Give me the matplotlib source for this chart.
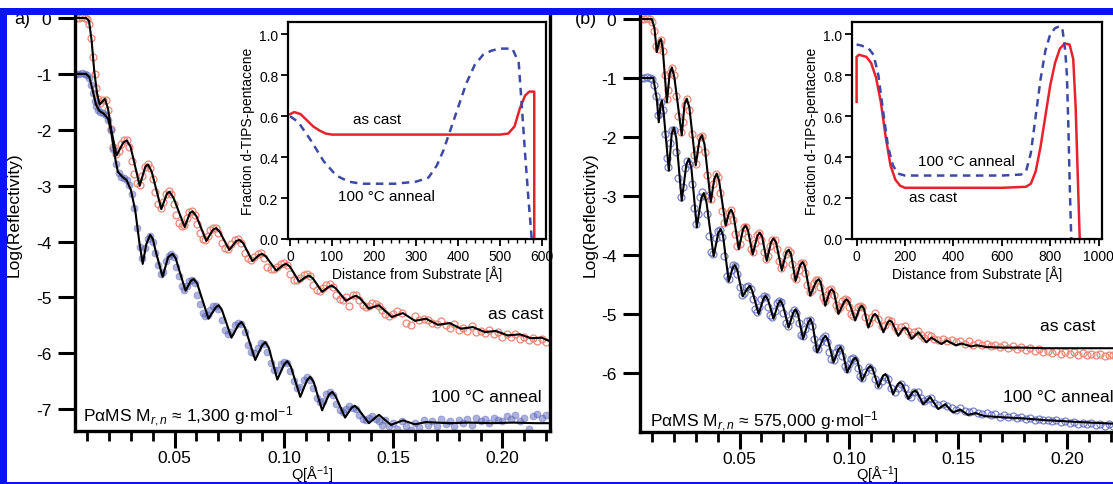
import matplotlib
matplotlib.use("Agg")
import matplotlib.pyplot as plt
from matplotlib.ticker import MultipleLocator, FormatStrFormatter
from matplotlib.patches import Rectangle

plt.rcParams['font.family'] = ['Liberation Sans', 'DejaVu Sans']
plt.rcParams['mathtext.fontset'] = 'custom'
plt.rcParams['mathtext.rm'] = 'Liberation Sans'
plt.rcParams['mathtext.it'] = 'Liberation Sans:italic'
plt.rcParams['mathtext.default'] = 'regular'
plt.rcParams['axes.unicode_minus'] = False

# ---------------- panel (a): fit lines ----------------
qa_cast_fit = [0.0045, 0.0095, 0.0108, 0.0120, 0.0132, 0.0145, 0.0157, 0.0168, 0.0181, 0.0195,
               0.0210, 0.0234, 0.0265, 0.0280, 0.0298, 0.0340, 0.0366, 0.0378, 0.0395, 0.0439,
               0.0465, 0.0477, 0.0495, 0.0546, 0.0570, 0.0582, 0.0600, 0.0645, 0.0675, 0.0690,
               0.0707, 0.0750, 0.0782, 0.0797, 0.0814, 0.0856, 0.0887, 0.0901, 0.0918, 0.0965,
               0.0997, 0.1011, 0.1028, 0.1070, 0.1102, 0.1116, 0.1133, 0.1175, 0.1206, 0.1220,
               0.1238, 0.1284, 0.1316, 0.1330, 0.1347, 0.1389, 0.1435, 0.1494, 0.1545, 0.1600,
               0.1650, 0.1705, 0.1760, 0.1810, 0.1865, 0.1920, 0.1970, 0.2025, 0.2080, 0.2130,
               0.2180, 0.2220]
ra_cast_fit = [0.00, 0.00, -0.05, -0.40, -0.95, -1.35, -1.55, -1.50, -1.45, -1.62,
               -2.00, -2.46, -2.23, -2.19, -2.30, -3.00, -2.66, -2.62, -2.75, -3.42,
               -3.14, -3.11, -3.22, -3.74, -3.49, -3.46, -3.55, -3.99, -3.79, -3.76,
               -3.83, -4.15, -3.99, -3.97, -4.03, -4.35, -4.24, -4.22, -4.27, -4.52,
               -4.42, -4.40, -4.45, -4.72, -4.63, -4.61, -4.66, -4.90, -4.81, -4.79,
               -4.84, -5.06, -4.99, -4.97, -5.01, -5.20, -5.14, -5.35, -5.28, -5.42,
               -5.38, -5.49, -5.46, -5.56, -5.53, -5.62, -5.60, -5.68, -5.66, -5.73,
               -5.72, -5.79]

qa_ann_fit = [0.0045, 0.0095, 0.0110, 0.0125, 0.0140, 0.0155, 0.0175, 0.0195, 0.0210, 0.0225,
              0.0240, 0.0260, 0.0280, 0.0300, 0.0320, 0.0338, 0.0354, 0.0370, 0.0388, 0.0400,
              0.0415, 0.0445, 0.0470, 0.0491, 0.0505, 0.0520, 0.0550, 0.0575, 0.0587, 0.0603,
              0.0655, 0.0688, 0.0701, 0.0716, 0.0760, 0.0792, 0.0806, 0.0822, 0.0869, 0.0900,
              0.0915, 0.0931, 0.0970, 0.1001, 0.1016, 0.1032, 0.1075, 0.1106, 0.1121, 0.1137,
              0.1175, 0.1206, 0.1221, 0.1237, 0.1280, 0.1311, 0.1325, 0.1341, 0.1389, 0.1435,
              0.1490, 0.1545, 0.1600, 0.1650, 0.1750, 0.1850, 0.1950, 0.2050, 0.2150, 0.2220]
ra_ann_fit = [-1.00, -1.00, -1.06, -1.30, -1.55, -1.66, -1.71, -1.80, -2.05, -2.45,
              -2.75, -2.84, -2.90, -3.08, -3.45, -4.00, -4.40, -4.05, -3.88, -3.95,
              -4.20, -4.63, -4.28, -4.22, -4.30, -4.50, -4.88, -4.70, -4.67, -4.75,
              -5.38, -5.18, -5.14, -5.22, -5.72, -5.49, -5.44, -5.54, -6.12, -5.86,
              -5.80, -5.90, -6.47, -6.20, -6.14, -6.24, -6.78, -6.48, -6.42, -6.52,
              -7.02, -6.74, -6.69, -6.77, -7.15, -6.97, -6.94, -7.00, -7.25, -7.10,
              -7.28, -7.20, -7.27, -7.23, -7.25, -7.24, -7.25, -7.24, -7.25, -7.25]

# ---------------- panel (a): measured points ----------------
qa_pts = [0.0050, 0.0062, 0.0075, 0.0088, 0.0100, 0.0110, 0.0118, 0.0126, 0.0134, 0.0142,
          0.0150, 0.0160, 0.0172, 0.0184, 0.0196, 0.0208, 0.0220, 0.0232, 0.0244, 0.0256,
          0.0268, 0.0280, 0.0292, 0.0304, 0.0316, 0.0328, 0.0340, 0.0352, 0.0364, 0.0376,
          0.0388, 0.0400, 0.0412, 0.0424, 0.0436, 0.0448, 0.0460, 0.0472, 0.0484, 0.0496,
          0.0508, 0.0520, 0.0532, 0.0544, 0.0556, 0.0568, 0.0580, 0.0592, 0.0604, 0.0616,
          0.0628, 0.0640, 0.0652, 0.0664, 0.0676, 0.0688, 0.0700, 0.0715, 0.0730, 0.0745,
          0.0760, 0.0775, 0.0790, 0.0805, 0.0820, 0.0835, 0.0850, 0.0865, 0.0880, 0.0895,
          0.0910, 0.0925, 0.0940, 0.0955, 0.0970, 0.0985, 0.1000, 0.1015, 0.1030, 0.1045,
          0.1060, 0.1075, 0.1090, 0.1105, 0.1120, 0.1135, 0.1150, 0.1165, 0.1180, 0.1195,
          0.1210, 0.1225, 0.1240, 0.1255, 0.1270, 0.1285, 0.1300, 0.1315, 0.1330, 0.1345,
          0.1360, 0.1375, 0.1390, 0.1405, 0.1420, 0.1435, 0.1450, 0.1465, 0.1480, 0.1500,
          0.1520, 0.1540, 0.1560, 0.1580, 0.1600, 0.1620, 0.1640, 0.1660, 0.1680, 0.1700,
          0.1720, 0.1740, 0.1760, 0.1780, 0.1800, 0.1820, 0.1840, 0.1860, 0.1880, 0.1900,
          0.1920, 0.1940, 0.1960, 0.1980, 0.2000, 0.2020, 0.2040, 0.2060, 0.2080, 0.2100,
          0.2120, 0.2140, 0.2160, 0.2180, 0.2200]
ra_cast_pts = [0.00, 0.00, 0.01, 0.00, -0.02, -0.10, -0.35, -0.70, -1.00, -1.25,
               -1.45, -1.52, -1.46, -1.47, -1.65, -1.98, -2.30, -2.44, -2.38, -2.25,
               -2.19, -2.18, -2.30, -2.55, -2.80, -2.96, -2.98, -2.82, -2.66, -2.62,
               -2.68, -2.88, -3.12, -3.32, -3.40, -3.30, -3.15, -3.10, -3.15, -3.32,
               -3.52, -3.66, -3.73, -3.70, -3.58, -3.48, -3.46, -3.52, -3.68, -3.85,
               -3.96, -3.97, -3.90, -3.80, -3.75, -3.76, -3.85, -4.02, -4.12, -4.13,
               -4.05, -3.98, -3.96, -4.03, -4.20, -4.30, -4.33, -4.28, -4.22, -4.21,
               -4.30, -4.45, -4.50, -4.50, -4.45, -4.40, -4.38, -4.42, -4.58, -4.68,
               -4.69, -4.65, -4.60, -4.58, -4.62, -4.78, -4.86, -4.88, -4.84, -4.78,
               -4.76, -4.82, -4.96, -5.02, -5.04, -5.00, -5.15, -4.96, -4.95, -5.05,
               -5.14, -5.18, -5.16, -5.10, -5.12, -5.15, -5.22, -5.30, -5.33, -5.30,
               -5.25, -5.28, -5.45, -5.50, -5.33, -5.40, -5.38, -5.40, -5.45, -5.48,
               -5.42, -5.50, -5.55, -5.48, -5.58, -5.55, -5.60, -5.52, -5.62, -5.60,
               -5.64, -5.58, -5.66, -5.62, -5.70, -5.65, -5.70, -5.66, -5.74, -5.70,
               -5.76, -5.72, -5.78, -5.75, -5.80]
ra_ann_pts = [-1.00, -1.00, -0.99, -1.00, -1.02, -1.08, -1.20, -1.35, -1.48, -1.58,
              -1.64, -1.68, -1.70, -1.74, -1.82, -2.00, -2.35, -2.62, -2.78, -2.84,
              -2.86, -2.90, -2.98, -3.15, -3.40, -3.75, -4.10, -4.30, -4.12, -3.95,
              -3.90, -4.00, -4.20, -4.42, -4.58, -4.55, -4.35, -4.25, -4.22, -4.28,
              -4.45, -4.62, -4.80, -4.86, -4.80, -4.70, -4.68, -4.75, -4.95, -5.12,
              -5.28, -5.34, -5.32, -5.22, -5.15, -5.15, -5.20, -5.40, -5.58, -5.66,
              -5.62, -5.50, -5.45, -5.48, -5.62, -5.85, -5.98, -6.00, -5.90, -5.82,
              -5.84, -5.98, -6.18, -6.30, -6.30, -6.20, -6.15, -6.18, -6.32, -6.50,
              -6.62, -6.60, -6.48, -6.42, -6.48, -6.62, -6.80, -6.88, -6.85, -6.72,
              -6.70, -6.75, -6.90, -7.02, -7.05, -7.00, -6.95, -6.98, -7.00, -7.10,
              -7.18, -7.20, -7.15, -7.12, -7.18, -7.22, -7.28, -7.20, -7.30, -7.25,
              -7.35, -7.22, -7.30, -7.38, -7.25, -7.32, -7.20, -7.28, -7.22, -7.30,
              -7.18, -7.26, -7.22, -7.30, -7.20, -7.25, -7.18, -7.28, -7.15, -7.22,
              -7.18, -7.25, -7.15, -7.20, -7.22, -7.12, -7.18, -7.10, -7.22, -7.15,
              -7.35, -7.12, -7.08, -7.15, -7.10]

# ---------------- panel (b): fit lines ----------------
qb_cast_fit = [0.0045, 0.0098, 0.0110, 0.0121, 0.0132, 0.0140, 0.0148, 0.0167, 0.0180, 0.0190,
               0.0201, 0.0235, 0.0248, 0.0258, 0.0270, 0.0299, 0.0316, 0.0327, 0.0339, 0.0368,
               0.0384, 0.0395, 0.0406, 0.0436, 0.0451, 0.0461, 0.0472, 0.0496, 0.0516, 0.0527,
               0.0538, 0.0560, 0.0581, 0.0592, 0.0603, 0.0624, 0.0644, 0.0655, 0.0667, 0.0693,
               0.0713, 0.0724, 0.0735, 0.0756, 0.0777, 0.0788, 0.0799, 0.0823, 0.0850, 0.0861,
               0.0871, 0.0892, 0.0912, 0.0922, 0.0932, 0.0952, 0.0979, 0.0990, 0.1001, 0.1029,
               0.1049, 0.1059, 0.1069, 0.1089, 0.1110, 0.1120, 0.1130, 0.1158, 0.1178, 0.1188,
               0.1198, 0.1226, 0.1247, 0.1257, 0.1267, 0.1287, 0.1318, 0.1355, 0.1378, 0.1424,
               0.1447, 0.1490, 0.1515, 0.1560, 0.1585, 0.1630, 0.1700, 0.1800, 0.1900, 0.2000,
               0.2100, 0.2220]
rb_cast_fit = [0.00, 0.00, -0.15, -0.56, -0.38, -0.34, -0.50, -1.41, -0.92, -0.82,
               -0.98, -1.97, -1.44, -1.35, -1.50, -2.48, -2.05, -1.97, -2.12, -3.10,
               -2.71, -2.62, -2.74, -3.50, -3.29, -3.23, -3.32, -3.90, -3.56, -3.50,
               -3.58, -3.99, -3.68, -3.62, -3.69, -4.10, -3.78, -3.72, -3.79, -4.26,
               -3.96, -3.91, -3.98, -4.44, -4.17, -4.12, -4.19, -4.69, -4.45, -4.41,
               -4.46, -4.86, -4.62, -4.58, -4.63, -5.00, -4.79, -4.75, -4.80, -5.11,
               -4.90, -4.86, -4.91, -5.23, -5.03, -5.00, -5.04, -5.31, -5.14, -5.11,
               -5.14, -5.37, -5.25, -5.23, -5.26, -5.42, -5.31, -5.48, -5.40, -5.51,
               -5.45, -5.53, -5.50, -5.55, -5.53, -5.56, -5.57, -5.57, -5.58, -5.58,
               -5.58, -5.58]

qb_ann_fit = [0.0045, 0.0105, 0.0121, 0.0130, 0.0138, 0.0144, 0.0152, 0.0176, 0.0189, 0.0199,
              0.0210, 0.0235, 0.0256, 0.0267, 0.0279, 0.0304, 0.0325, 0.0336, 0.0348, 0.0381,
              0.0402, 0.0413, 0.0424, 0.0450, 0.0468, 0.0478, 0.0489, 0.0514, 0.0535, 0.0546,
              0.0557, 0.0587, 0.0608, 0.0619, 0.0630, 0.0655, 0.0676, 0.0687, 0.0698, 0.0724,
              0.0745, 0.0756, 0.0767, 0.0790, 0.0813, 0.0824, 0.0834, 0.0855, 0.0882, 0.0893,
              0.0904, 0.0930, 0.0951, 0.0961, 0.0971, 0.0992, 0.1019, 0.1030, 0.1040, 0.1060,
              0.1087, 0.1098, 0.1109, 0.1135, 0.1156, 0.1167, 0.1177, 0.1203, 0.1224, 0.1235,
              0.1246, 0.1272, 0.1293, 0.1304, 0.1315, 0.1340, 0.1372, 0.1409, 0.1441, 0.1477,
              0.1510, 0.1545, 0.1580, 0.1620, 0.1700, 0.1800, 0.1900, 0.2000, 0.2100, 0.2220]
rb_ann_fit = [-1.00, -1.00, -1.36, -1.75, -1.45, -1.38, -1.58, -2.57, -1.95, -1.84,
              -2.02, -3.08, -2.47, -2.37, -2.52, -3.53, -3.03, -2.95, -3.10, -4.02,
              -3.63, -3.56, -3.67, -4.45, -4.22, -4.17, -4.25, -4.70, -4.57, -4.52,
              -4.60, -5.00, -4.75, -4.69, -4.76, -5.08, -4.83, -4.77, -4.85, -5.23,
              -4.98, -4.92, -5.00, -5.42, -5.15, -5.08, -5.18, -5.65, -5.42, -5.37,
              -5.44, -5.82, -5.61, -5.56, -5.63, -5.99, -5.78, -5.74, -5.80, -6.13,
              -5.92, -5.88, -5.93, -6.24, -6.05, -6.02, -6.07, -6.36, -6.19, -6.16,
              -6.20, -6.44, -6.32, -6.30, -6.34, -6.53, -6.41, -6.61, -6.53, -6.67,
              -6.62, -6.71, -6.68, -6.73, -6.75, -6.77, -6.80, -6.82, -6.84, -6.86]

# ---------------- panel (b): measured points ----------------
qb_pts = [0.0050, 0.0062, 0.0075, 0.0088, 0.0100, 0.0110, 0.0118, 0.0126, 0.0134, 0.0142,
          0.0150, 0.0158, 0.0166, 0.0174, 0.0182, 0.0190, 0.0200, 0.0210, 0.0220, 0.0230,
          0.0240, 0.0250, 0.0260, 0.0270, 0.0280, 0.0290, 0.0300, 0.0310, 0.0320, 0.0330,
          0.0340, 0.0350, 0.0360, 0.0370, 0.0380, 0.0390, 0.0400, 0.0410, 0.0420, 0.0430,
          0.0440, 0.0450, 0.0460, 0.0470, 0.0480, 0.0490, 0.0500, 0.0510, 0.0520, 0.0530,
          0.0540, 0.0550, 0.0560, 0.0570, 0.0580, 0.0590, 0.0600, 0.0610, 0.0620, 0.0630,
          0.0640, 0.0650, 0.0660, 0.0670, 0.0680, 0.0690, 0.0700, 0.0710, 0.0720, 0.0730,
          0.0740, 0.0750, 0.0760, 0.0770, 0.0780, 0.0790, 0.0800, 0.0810, 0.0820, 0.0830,
          0.0840, 0.0850, 0.0860, 0.0870, 0.0880, 0.0890, 0.0900, 0.0910, 0.0920, 0.0930,
          0.0940, 0.0950, 0.0960, 0.0970, 0.0980, 0.0990, 0.1000, 0.1010, 0.1020, 0.1030,
          0.1040, 0.1050, 0.1060, 0.1075, 0.1090, 0.1105, 0.1120, 0.1135, 0.1150, 0.1165,
          0.1180, 0.1195, 0.1210, 0.1225, 0.1240, 0.1255, 0.1270, 0.1285, 0.1300, 0.1315,
          0.1330, 0.1345, 0.1360, 0.1375, 0.1390, 0.1410, 0.1430, 0.1450, 0.1470, 0.1490,
          0.1510, 0.1530, 0.1550, 0.1570, 0.1590, 0.1610, 0.1630, 0.1650, 0.1670, 0.1690,
          0.1710, 0.1730, 0.1750, 0.1770, 0.1790, 0.1810, 0.1830, 0.1850, 0.1870, 0.1890,
          0.1910, 0.1930, 0.1950, 0.1970, 0.1990, 0.2010, 0.2030, 0.2050, 0.2070, 0.2090,
          0.2110, 0.2130, 0.2150, 0.2170, 0.2190, 0.2210]
rb_cast_pts = [0.00, 0.00, 0.02, 0.00, -0.05, -0.20, -0.45, -0.50, -0.40, -0.35,
               -0.55, -0.95, -1.35, -1.20, -0.92, -0.83, -0.95, -1.30, -1.65, -1.92,
               -1.75, -1.45, -1.35, -1.55, -1.95, -2.30, -2.45, -2.20, -2.00, -1.98,
               -2.25, -2.65, -2.98, -3.05, -2.80, -2.63, -2.68, -2.95, -3.25, -3.45,
               -3.42, -3.28, -3.24, -3.40, -3.65, -3.85, -3.82, -3.62, -3.52, -3.52,
               -3.70, -3.90, -3.95, -3.80, -3.66, -3.63, -3.75, -3.95, -4.06, -4.02,
               -3.85, -3.74, -3.75, -3.90, -4.10, -4.22, -4.15, -3.98, -3.92, -3.95,
               -4.15, -4.36, -4.40, -4.25, -4.14, -4.13, -4.30, -4.50, -4.62, -4.60,
               -4.48, -4.42, -4.42, -4.55, -4.72, -4.78, -4.68, -4.60, -4.58, -4.68,
               -4.85, -4.92, -4.88, -4.78, -4.74, -4.76, -4.88, -5.00, -5.04, -4.98,
               -4.88, -4.86, -4.88, -5.05, -5.15, -5.05, -4.98, -5.08, -5.20, -5.18,
               -5.10, -5.12, -5.22, -5.28, -5.22, -5.20, -5.28, -5.35, -5.30, -5.28,
               -5.35, -5.40, -5.36, -5.38, -5.42, -5.44, -5.42, -5.46, -5.44, -5.47,
               -5.45, -5.50, -5.46, -5.52, -5.49, -5.53, -5.50, -5.55, -5.52, -5.56,
               -5.53, -5.58, -5.55, -5.60, -5.56, -5.61, -5.58, -5.63, -5.60, -5.64,
               -5.62, -5.66, -5.63, -5.67, -5.64, -5.68, -5.65, -5.69, -5.66, -5.70,
               -5.67, -5.70, -5.68, -5.71, -5.69, -5.70]
rb_ann_pts = [-1.00, -1.00, -0.99, -1.00, -1.02, -1.12, -1.30, -1.62, -1.60, -1.40,
              -1.55, -1.95, -2.35, -2.50, -2.10, -1.88, -1.88, -2.25, -2.70, -3.02,
              -2.85, -2.52, -2.40, -2.45, -2.80, -3.20, -3.48, -3.30, -3.02, -2.94,
              -3.00, -3.30, -3.68, -3.95, -3.98, -3.72, -3.60, -3.57, -3.70, -4.02,
              -4.35, -4.40, -4.25, -4.17, -4.18, -4.32, -4.55, -4.68, -4.65, -4.55,
              -4.52, -4.58, -4.75, -4.92, -4.96, -4.88, -4.75, -4.70, -4.72, -4.88,
              -5.02, -5.05, -4.95, -4.82, -4.78, -4.80, -4.98, -5.15, -5.20, -5.10,
              -4.98, -4.93, -4.98, -5.15, -5.35, -5.38, -5.25, -5.12, -5.10, -5.20,
              -5.42, -5.58, -5.60, -5.48, -5.40, -5.38, -5.48, -5.65, -5.76, -5.78,
              -5.65, -5.58, -5.58, -5.72, -5.88, -5.94, -5.85, -5.77, -5.75, -5.78,
              -5.92, -6.05, -6.08, -5.98, -5.90, -5.95, -6.10, -6.20, -6.14, -6.06,
              -6.10, -6.25, -6.32, -6.25, -6.19, -6.26, -6.38, -6.40, -6.33, -6.32,
              -6.42, -6.48, -6.44, -6.42, -6.50, -6.55, -6.52, -6.56, -6.60, -6.62,
              -6.60, -6.65, -6.66, -6.64, -6.68, -6.70, -6.68, -6.72, -6.70, -6.74,
              -6.72, -6.75, -6.73, -6.77, -6.75, -6.78, -6.76, -6.79, -6.78, -6.80,
              -6.79, -6.82, -6.80, -6.83, -6.82, -6.84, -6.83, -6.86, -6.84, -6.87,
              -6.85, -6.88, -6.86, -6.89, -6.87, -6.90]

# ---------------- insets: composition profiles ----------------
za_cast = [0, 10, 25, 40, 55, 70, 85, 100, 200, 300, 400, 500, 520, 535, 548, 560, 570, 582, 582]
fa_cast = [0.61, 0.62, 0.61, 0.58, 0.55, 0.53, 0.515, 0.51, 0.51, 0.51, 0.51, 0.51, 0.515,
           0.55, 0.64, 0.70, 0.72, 0.72, 0.0]
za_ann = [0, 20, 50, 80, 110, 140, 170, 200, 250, 300, 330, 350, 365, 380, 400, 420, 440,
          460, 480, 500, 530, 545, 552, 560, 568, 576]
fa_ann = [0.60, 0.57, 0.48, 0.38, 0.31, 0.28, 0.27, 0.27, 0.27, 0.28, 0.30, 0.36, 0.43,
          0.52, 0.64, 0.76, 0.85, 0.90, 0.92, 0.93, 0.93, 0.86, 0.66, 0.42, 0.20, 0.0]

zb_cast = [0, 0, 10, 40, 60, 80, 100, 120, 140, 160, 180, 200, 400, 600, 700, 720, 740, 760,
           780, 800, 820, 840, 860, 880, 895, 905, 912, 918, 922]
fb_cast = [0.67, 0.89, 0.90, 0.89, 0.86, 0.79, 0.67, 0.50, 0.36, 0.29, 0.26, 0.25, 0.25, 0.25,
           0.255, 0.27, 0.33, 0.45, 0.60, 0.75, 0.86, 0.93, 0.955, 0.95, 0.88, 0.65, 0.38,
           0.15, 0.0]
zb_ann = [0, 20, 50, 70, 90, 110, 130, 150, 170, 200, 400, 600, 680, 700, 720, 740, 760, 780,
          800, 820, 840, 850, 862, 869, 875, 881, 887]
fb_ann = [0.95, 0.945, 0.93, 0.90, 0.80, 0.62, 0.45, 0.36, 0.32, 0.31, 0.31, 0.31, 0.315,
          0.33, 0.42, 0.60, 0.78, 0.92, 1.00, 1.03, 1.04, 1.03, 0.92, 0.80, 0.55, 0.25, 0.0]

RED_PT = '#ec8677'
BLUE_PT = '#5b66b8'
RED_LN = '#e8222c'
BLUE_LN = '#3c4aa6'

W, H = 1113, 485


def box(x0, y0, x1, y1):
    # pixel box (top-left origin) -> figure fraction rect
    return [x0 / W, 1 - y1 / H, (x1 - x0) / W, (y1 - y0) / H]


fig = plt.figure(figsize=(W / 100, H / 100), dpi=100)


def main_axes(rect, ylim, yticks):
    ax = fig.add_axes(rect)
    ax.set_xlim(0.0044, 0.2218)
    ax.set_ylim(*ylim)
    ax.set_yticks(yticks)
    ax.xaxis.set_major_locator(MultipleLocator(0.05))
    ax.xaxis.set_minor_locator(MultipleLocator(0.01))
    ax.xaxis.set_major_formatter(FormatStrFormatter('%.2f'))
    ax.tick_params(which='major', direction='out', length=12, width=2.2, labelsize=12.5, pad=5)
    ax.tick_params(axis='x', which='major', pad=2)
    ax.tick_params(which='minor', direction='out', length=7, width=2)
    ax.tick_params(axis='y', which='both', right=False)
    for s in ax.spines.values():
        s.set_linewidth(2.4)
    return ax


def inset_axes(rect, xlim, major, label_pad=2):
    ax = fig.add_axes(rect)
    ax.set_xlim(*xlim)
    ax.set_ylim(0, 1.06)
    ax.xaxis.set_major_locator(MultipleLocator(major))
    ax.xaxis.set_minor_locator(MultipleLocator(20))
    ax.yaxis.set_major_locator(MultipleLocator(0.2))
    ax.yaxis.set_major_formatter(FormatStrFormatter('%.1f'))
    ax.tick_params(which='major', direction='out', length=5, width=1.3, labelsize=10, pad=2)
    ax.tick_params(which='minor', direction='out', length=3, width=1)
    for s in ax.spines.values():
        s.set_linewidth(1.6)
    ax.set_xlabel('Distance from Substrate [Å]', fontsize=10, labelpad=label_pad)
    ax.set_ylabel('Fraction d-TIPS-pentacene', fontsize=10, labelpad=3)
    return ax


fit_kw = dict(color='black', lw=1.5, zorder=3, solid_joinstyle='round')

# ---- panel (a)
axa = main_axes(box(75, 12, 550, 432), (-7.39, 0.125), [0, -1, -2, -3, -4, -5, -6, -7])
axa.plot(qa_pts, ra_cast_pts, 'o', ms=5, mfc='none', mec=RED_PT, mew=0.9, zorder=2)
axa.plot(qa_pts, ra_ann_pts, 'o', ms=5, mfc=BLUE_PT, mec=BLUE_PT, mew=0.6, alpha=0.5, zorder=2)
axa.plot(qa_cast_fit, ra_cast_fit, **fit_kw)
axa.plot(qa_ann_fit, ra_ann_fit, **fit_kw)
axa.text(0.985, 0.279, 'as cast', transform=axa.transAxes, ha='right', va='center', fontsize=12.5)
axa.text(0.983, 0.081, '100 °C anneal', transform=axa.transAxes, ha='right', va='center',
         fontsize=12.5)
axa.text(0.017, 0.036, r'P$\alpha$MS M$_{\it r,n}$ ≈ 1,300 g·mol$^{-1}$', transform=axa.transAxes,
         ha='left', va='center', fontsize=12.5)

# ---- panel (b)
axb = main_axes(box(640, 12, 1115, 433), (-7.0, 0.136), [0, -1, -2, -3, -4, -5, -6])
axb.plot(qb_pts, rb_cast_pts, 'o', ms=5, mfc='none', mec=RED_PT, mew=0.9, zorder=2)
axb.plot(qb_pts, rb_ann_pts, 'o', ms=5, mfc='none', mec=BLUE_PT, mew=0.9, alpha=0.8, zorder=2)
axb.plot(qb_cast_fit, rb_cast_fit, **fit_kw)
axb.plot(qb_ann_fit, rb_ann_fit, **fit_kw)
axb.text(0.958, 0.254, 'as cast', transform=axb.transAxes, ha='right', va='center', fontsize=12.5)
axb.text(0.764, 0.0855, '100 °C anneal', transform=axb.transAxes, ha='left', va='center',
         fontsize=12.5, clip_on=False)
axb.text(0.021, 0.026, r'P$\alpha$MS M$_{\it r,n}$ ≈ 575,000 g·mol$^{-1}$', transform=axb.transAxes,
         ha='left', va='center', fontsize=12.5)

# axis titles and panel letters
for xc, yl, letter, lx in [(312, 14, 'a)', 14), (877, 590, '(b)', 575)]:
    fig.text(yl / W, 1 - 215 / H, 'Log(Reflectivity)', rotation=90, ha='center', va='center',
             fontsize=12.5)
    fig.text(xc / W, 1 - 475.5 / H, 'Q[Å$^{-1}$]', ha='center', va='center', fontsize=10.5)
    fig.text(lx / W, 1 - 19 / H, letter, ha='left', va='center', fontsize=13)

# ---- insets
ina = inset_axes(box(288, 23, 546, 240), (-5, 610), 100)
ina.plot(za_cast, fa_cast, color=RED_LN, lw=1.8, clip_on=False)
ina.plot(za_ann, fa_ann, color=BLUE_LN, lw=1.8, ls=(0, (3, 2.2)), clip_on=False)
ina.text(208, 0.585, 'as cast', ha='center', va='center', fontsize=11)
ina.text(230, 0.21, '100 °C anneal', ha='center', va='center', fontsize=11)

inb = inset_axes(box(852, 23, 1102, 240), (-19, 1014), 200)
inb.plot(zb_cast, fb_cast, color=RED_LN, lw=1.8, clip_on=False)
inb.plot(zb_ann, fb_ann, color=BLUE_LN, lw=1.8, ls=(0, (3, 2.2)), clip_on=False)
inb.text(454, 0.382, '100 °C anneal', ha='center', va='center', fontsize=11)
inb.text(316, 0.203, 'as cast', ha='center', va='center', fontsize=11)

# blue frame around the figure
for x0, y0, x1, y1 in [(0, 9, W, 15.5), (0, 9, 7, H), (0, 483, W, H)]:
    fig.add_artist(Rectangle((x0 / W, 1 - y1 / H), (x1 - x0) / W, (y1 - y0) / H,
                             transform=fig.transFigure, facecolor='#0a14f0', edgecolor='none',
                             zorder=50))

fig.savefig('out.png', dpi=100)
